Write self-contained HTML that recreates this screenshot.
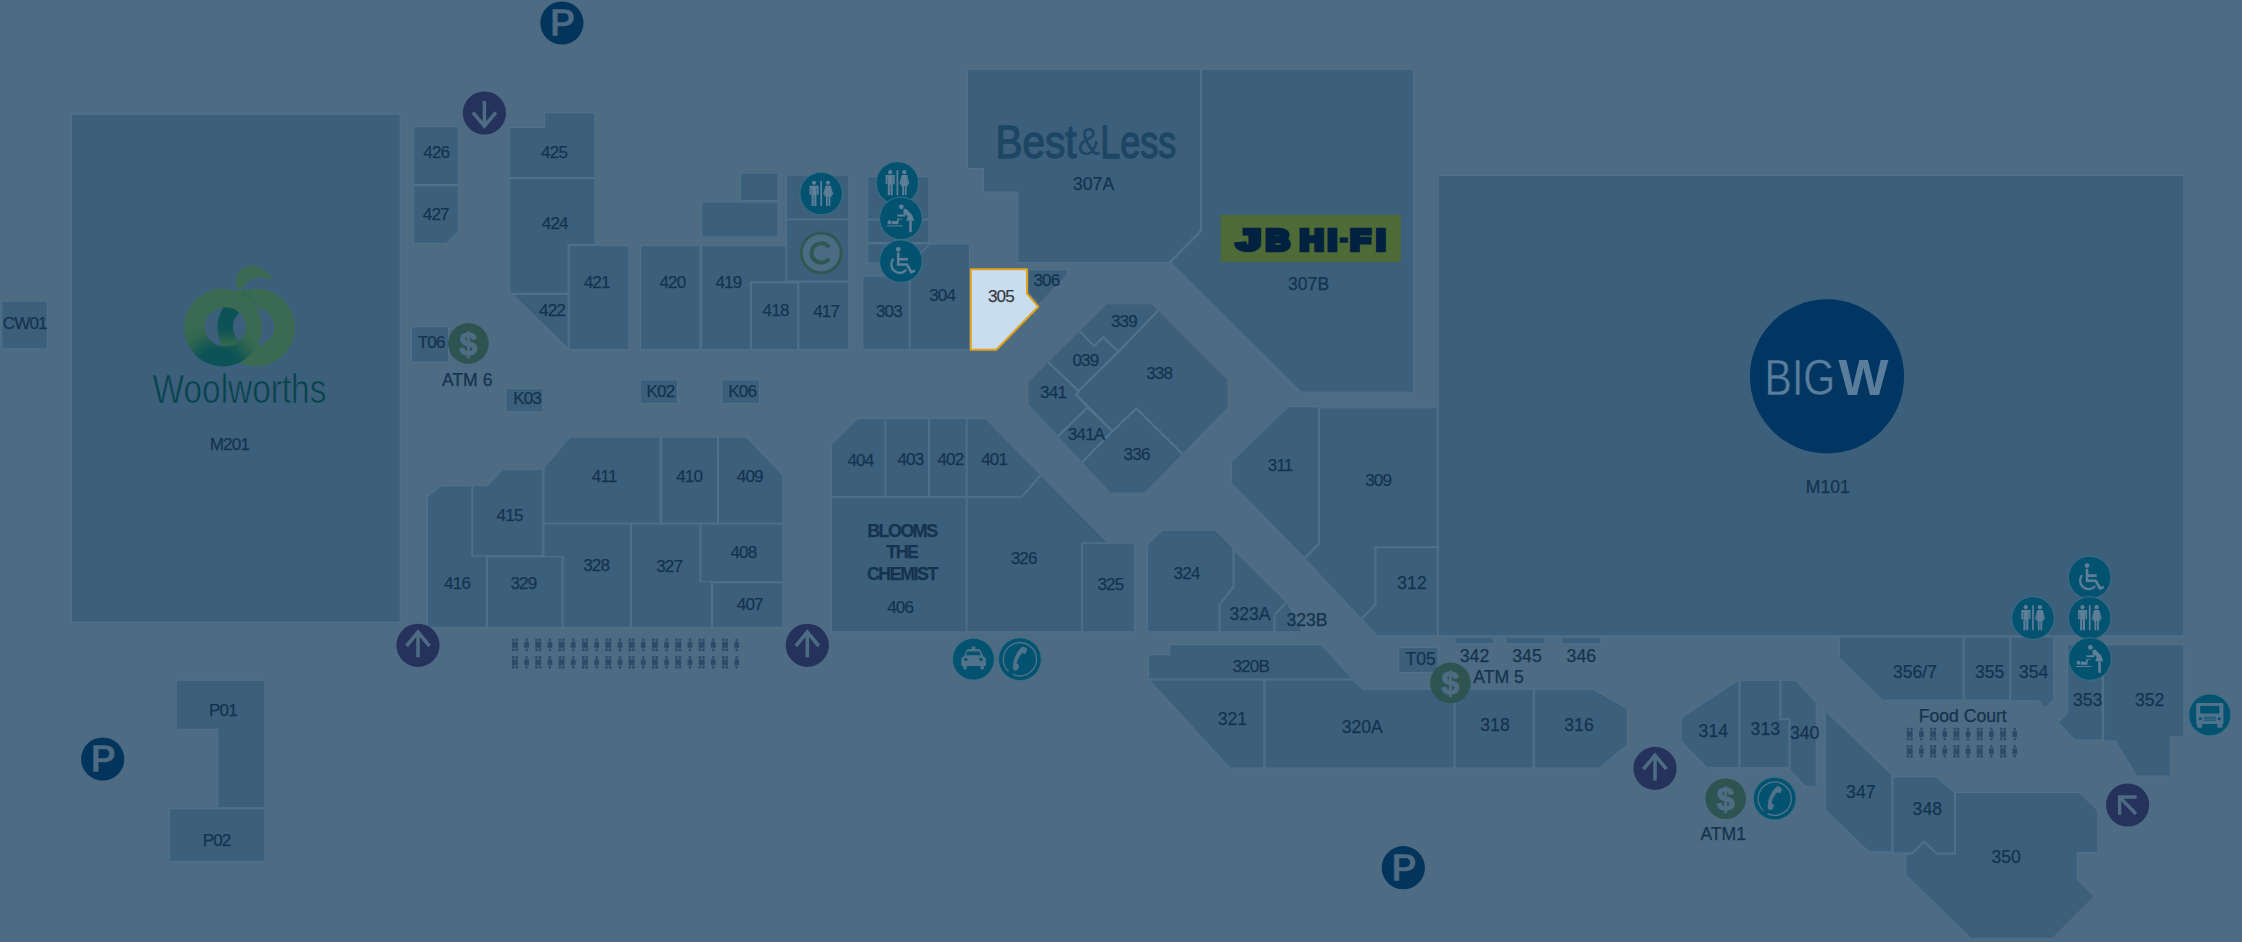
<!DOCTYPE html>
<html lang="en"><head><meta charset="utf-8"><title>Centre Map</title>
<style>
html,body{margin:0;padding:0;background:#4d6b82;}
body{width:2242px;height:942px;overflow:hidden;}
svg{display:block;}
text{font-family:"Liberation Sans",Arial,Helvetica,sans-serif;}
.s{fill:#3c607c;stroke:#50718a;stroke-width:2.2;paint-order:stroke;stroke-linejoin:miter;}
.c{fill:#3c607c;stroke:#52748e;stroke-width:1.8;stroke-linejoin:miter;}
.l{font-size:17.6px;fill:#15334f;text-anchor:middle;stroke:#15334f;stroke-width:0.25px;}
.t{letter-spacing:-0.85px;font-size:17.1px;}
.b{font-weight:bold;font-size:17.8px;letter-spacing:-1.45px;}
</style></head><body>
<svg width="2242" height="942" viewBox="0 0 2242 942">
<defs>
<radialGradient id="wl" gradientUnits="userSpaceOnUse" cx="218" cy="372" r="52"><stop offset="0" stop-color="#0a5156"/><stop offset="0.45" stop-color="#0d5356"/><stop offset="0.8" stop-color="#33674f"/><stop offset="1" stop-color="#3a6a52"/></radialGradient>
<radialGradient id="wr" gradientUnits="userSpaceOnUse" cx="227" cy="316" r="34"><stop offset="0" stop-color="#0a5156"/><stop offset="0.45" stop-color="#0e5456"/><stop offset="0.85" stop-color="#33674f"/><stop offset="1" stop-color="#3a6a52"/></radialGradient>
<clipPath id="oct"><polygon points="1106.7,304.2 1151.7,304.2 1227.3,380 1227.3,407.5 1144.4,492.4 1110.6,492.4 1028.7,404.2 1028.7,381.7"/></clipPath>
</defs>
<rect width="2242" height="942" fill="#4d6b82"/>
<g class="s">
<polygon points="72,114.7 399.7,114.7 399.7,621.7 72,621.7"/>
<polygon points="2.3,301.5 46.7,301.5 46.7,348.3 2.3,348.3"/>
<polygon points="414.2,127.2 457.7,127.2 457.7,183.9 414.2,183.9"/>
<polygon points="414.2,186.2 457.7,186.2 457.7,231.2 446.1,242.9 414.2,242.9"/>
<polygon points="510.3,128 545.2,128 545.2,113.3 594.5,113.3 594.5,177 510.3,177"/>
<polygon points="510.3,179 594.5,179 594.5,244 567.6,244 567.6,292.8 510.3,292.8"/>
<polygon points="513.8,294.9 567.6,294.9 567.6,347.3"/>
<polygon points="569.7,245.9 628.4,245.9 628.4,349 569.7,349"/>
<polygon points="641,245.9 699.4,245.9 699.4,349 641,349"/>
<polygon points="702.1,245.9 785.5,245.9 785.5,281.3 750,281.3 750,349 702.1,349"/>
<polygon points="751.8,283.2 797.2,283.2 797.2,349 751.8,349"/>
<polygon points="799.3,282.8 848.2,282.8 848.2,349 799.3,349"/>
<polygon points="741,173.4 777.5,173.4 777.5,200 741,200"/>
<polygon points="702.1,202.5 777.5,202.5 777.5,236.4 702.1,236.4"/>
<polygon points="787,175.5 848.2,175.5 848.2,218.5 787,218.5"/>
<polygon points="787,220.6 848.2,220.6 848.2,280.6 787,280.6"/>
<polygon points="867.9,177.3 928.4,177.3 928.4,218.5 867.9,218.5"/>
<polygon points="867.9,220.6 928.4,220.6 928.4,241.9 867.9,241.9"/>
<polygon points="867.9,244.5 928.4,244.5 921,252 921,262.5 867.9,262.5"/>
<polygon points="863.3,276.8 908.7,276.8 908.7,349 863.3,349"/>
<polygon points="910.6,349 910.6,264 930,244.5 969,244.5 969,349"/>
<polygon points="1028.6,270.3 1066.7,270.3 1066.7,275 1039,303.5 1028.6,292"/>
<polygon points="968,69.7 1200,69.7 1200,230 1168.6,262.1 1018.3,262.1 1018.3,191.6 984,191.6 984,168.1 968,168.1"/>
<polygon points="1202.2,69.7 1413,69.7 1413,391.7 1301.3,391.7 1171.5,262.5 1202.2,231.3"/>
<polygon points="1438.8,176 2183.3,176 2183.3,635.3 1438.8,635.3"/>
<polygon points="412,327.2 448,327.2 448,361.8 412,361.8"/>
<polygon points="506.5,389 542.5,389 542.5,411.3 506.5,411.3"/>
<polygon points="640.7,380.3 677,380.3 677,403 640.7,403"/>
<polygon points="722.5,380.3 759,380.3 759,403 722.5,403"/>
<polygon points="428,496.7 441.7,486.3 471.3,486.3 471.3,556.3 486,556.3 486,626.7 428,626.7"/>
<polygon points="473.2,486.3 487.3,486.3 503.3,470 542.3,470 542.3,555.3 473.2,555.3"/>
<polygon points="544.5,468 570,437.5 659.5,437.5 659.5,522.8 544.5,522.8"/>
<polygon points="662,437.5 717,437.5 717,522.8 662,522.8"/>
<polygon points="718.9,437.5 746.3,437.5 782.5,475.6 782.5,522.8 718.9,522.8"/>
<polygon points="544.5,524.5 630,524.5 630,626.7 563.6,626.7 563.6,556 544.5,556"/>
<polygon points="487.8,557.2 561.6,557.2 561.6,626.7 487.8,626.7"/>
<polygon points="632,524.5 699.5,524.5 699.5,582 711,582 711,626.7 632,626.7"/>
<polygon points="701.4,524.5 782.5,524.5 782.5,581.2 701.4,581.2"/>
<polygon points="713,583.2 782.5,583.2 782.5,626.7 713,626.7"/>
<polygon points="832,444.5 858,419 884.5,419 884.5,496 832,496"/>
<polygon points="886.3,419 928.2,419 928.2,496 886.3,496"/>
<polygon points="930,419 965.8,419 965.8,496 930,496"/>
<polygon points="967.5,419 985.3,419 1040,474.3 1021.5,496 967.5,496"/>
<polygon points="832,497.8 965.8,497.8 965.8,631.3 832,631.3"/>
<polygon points="967.5,497.8 1022.3,497.8 1041.2,476 1107,542.3 1081.3,542.3 1081.3,631.3 967.5,631.3"/>
<polygon points="1083,543.8 1134,543.8 1134,631.3 1083,631.3"/>
<polygon points="1148,545 1162.5,530.8 1215.8,530.8 1232.5,548 1232.5,586.3 1218.5,604.5 1218.5,631.3 1148,631.3"/>
<polygon points="1234.7,551.5 1285.5,601.5 1273.5,614.5 1273.5,631.3 1220.5,631.3 1220.5,605.3 1234.7,587"/>
<polygon points="1287,603 1300.8,629 1300.8,631.3 1275.5,631.3 1275.5,615.3"/>
<polygon points="1232.1,461.5 1288.3,407.3 1317.8,407.3 1317.8,543.3 1304.3,557 1232.1,483.3"/>
<polygon points="1320,408.3 1436.8,408.3 1436.8,546.3 1374.5,546.3 1374.5,603.8 1361,618 1305.8,559 1320,544.5"/>
<polygon points="1376.5,548.2 1436.8,548.2 1436.8,635.3 1377.3,635.3 1362.5,619.5 1376.5,605"/>
<polygon points="1149.1,655.2 1170.3,655.2 1170.3,645.1 1320.8,645.1 1351.8,678.6 1149.1,678.6"/>
<polygon points="1150.4,680.6 1263.4,680.6 1263.4,767.6 1230,767.6"/>
<polygon points="1265.5,680.6 1353.5,680.6 1362.2,689.7 1453.5,689.7 1453.5,767.6 1265.5,767.6"/>
<polygon points="1455.5,689.7 1532.7,689.7 1532.7,767.6 1455.5,767.6"/>
<polygon points="1535,689.7 1593,689.7 1626.7,709 1626.7,744.7 1599,767.6 1535,767.6"/>
<polygon points="1399.3,648 1437.3,648 1437.3,671.9 1399.3,671.9"/>
<polygon points="1455.3,637.8 1493,637.8 1493,643.2 1455.3,643.2"/>
<polygon points="1506.7,637.8 1544.3,637.8 1544.3,643.2 1506.7,643.2"/>
<polygon points="1562,637.8 1600,637.8 1600,643.2 1562,643.2"/>
<polygon points="1681.7,718 1738.3,680.8 1738.3,767.3 1707.3,767.3 1681.7,741.3"/>
<polygon points="1740.5,680.8 1779.5,680.8 1779.5,720 1788.5,720 1788.5,767.3 1740.5,767.3"/>
<polygon points="1781.5,680.8 1795.7,680.8 1815.7,703 1815.7,786.3 1805.7,786.3 1790.5,769.7 1790.5,718.5 1781.5,718.5"/>
<polygon points="1826,712 1891.3,774.7 1891.3,851.3 1869,851.3 1826,809.7"/>
<polygon points="1893.5,777.3 1935.7,777.3 1954,792.3 1954,852.5 1937.5,852.5 1924,840.5 1911.5,852.5 1893.5,852.5"/>
<polygon points="1956,793 2079,793 2097.3,810.7 2097.3,852 2076.7,852 2076.7,879.7 2094,896.3 2052.3,938 1971.3,938 1906.3,874.7 1906.3,854.7 1912,854.7 1924,843 1937,854.7 1956,854.7"/>
<polygon points="1840,637.6 1962.5,637.6 1962.5,699.7 1882.3,699.7 1840,658"/>
<polygon points="1964.8,637.6 2009.3,637.6 2009.3,699.7 1964.8,699.7"/>
<polygon points="2011.2,637.6 2053.2,637.6 2053.2,699.6 2045.2,707.3 2038.2,700.3 2011.2,700.3"/>
<polygon points="2068.1,645.3 2101.7,645.3 2101.7,739.5 2074.9,739.5 2058.8,722.5 2068.1,713.2"/>
<polygon points="2104.1,645.3 2183.4,645.3 2183.4,736.6 2170,736.6 2170,775.5 2136.9,775.5 2115.7,740.4 2104.1,740.4"/>
<polygon points="176.7,680.7 264.3,680.7 264.3,807.3 218.3,807.3 218.3,728.7 176.7,728.7"/>
<polygon points="170,809.3 264.3,809.3 264.3,860.7 170,860.7"/>
</g>
<g class="c" clip-path="url(#oct)">
<polygon points="1105.56,300.562 1152.93,300.562 1160.35,308.39 1118.3,351.8 1103.3,337 1094.2,346.3 1077.85,329.299"/>
<polygon points="1077.85,329.299 1094.2,346.3 1103.3,337 1118.3,351.8 1078.7,391.2 1045.92,360.199"/>
<polygon points="1045.92,360.199 1078.7,391.2 1076.3,394.7 1087.5,407.5 1056.94,437.346 1024.91,404.798 1024.91,380.799"/>
<polygon points="1087.5,407.5 1112.5,431.2 1080.94,463.611 1056.94,437.346"/>
<polygon points="1136.3,408.3 1183.84,455.165 1145.11,495.335 1109.88,495.335 1080.94,463.611 1112.5,431.2"/>
<polygon points="1160.35,308.39 1230.49,379.048 1230.49,408.197 1183.84,455.165 1136.3,408.3 1112.5,431.2 1076.3,394.7 1078.7,391.2 1118.3,351.8"/>
</g>
<polygon points="970.8,269.2 1027,269.2 1027,293.7 1038.3,306.7 996.3,349.7 970.8,349.7" fill="#c9ddf0" stroke="#e3a21c" stroke-width="2" stroke-linejoin="round"/>
<g fill="#2b4c69">
<rect x="511.95" y="642.00" width="5.9" height="5.8"/><rect x="511.95" y="638.70" width="2.4" height="2.6"/><rect x="511.95" y="648.50" width="2.4" height="2.6"/><rect x="515.50" y="638.70" width="2.4" height="2.6"/><rect x="515.50" y="648.50" width="2.4" height="2.6"/><rect x="524.22" y="642.00" width="4.7" height="5.8"/><rect x="525.47" y="638.70" width="2.2" height="2.6"/><rect x="525.47" y="648.50" width="2.2" height="2.6"/><rect x="535.29" y="642.00" width="5.9" height="5.8"/><rect x="535.29" y="638.70" width="2.4" height="2.6"/><rect x="535.29" y="648.50" width="2.4" height="2.6"/><rect x="538.84" y="638.70" width="2.4" height="2.6"/><rect x="538.84" y="648.50" width="2.4" height="2.6"/><rect x="547.56" y="642.00" width="4.7" height="5.8"/><rect x="548.81" y="638.70" width="2.2" height="2.6"/><rect x="548.81" y="648.50" width="2.2" height="2.6"/><rect x="558.63" y="642.00" width="5.9" height="5.8"/><rect x="558.63" y="638.70" width="2.4" height="2.6"/><rect x="558.63" y="648.50" width="2.4" height="2.6"/><rect x="562.18" y="638.70" width="2.4" height="2.6"/><rect x="562.18" y="648.50" width="2.4" height="2.6"/><rect x="570.90" y="642.00" width="4.7" height="5.8"/><rect x="572.15" y="638.70" width="2.2" height="2.6"/><rect x="572.15" y="648.50" width="2.2" height="2.6"/><rect x="581.97" y="642.00" width="5.9" height="5.8"/><rect x="581.97" y="638.70" width="2.4" height="2.6"/><rect x="581.97" y="648.50" width="2.4" height="2.6"/><rect x="585.52" y="638.70" width="2.4" height="2.6"/><rect x="585.52" y="648.50" width="2.4" height="2.6"/><rect x="594.24" y="642.00" width="4.7" height="5.8"/><rect x="595.49" y="638.70" width="2.2" height="2.6"/><rect x="595.49" y="648.50" width="2.2" height="2.6"/><rect x="605.31" y="642.00" width="5.9" height="5.8"/><rect x="605.31" y="638.70" width="2.4" height="2.6"/><rect x="605.31" y="648.50" width="2.4" height="2.6"/><rect x="608.86" y="638.70" width="2.4" height="2.6"/><rect x="608.86" y="648.50" width="2.4" height="2.6"/><rect x="617.58" y="642.00" width="4.7" height="5.8"/><rect x="618.83" y="638.70" width="2.2" height="2.6"/><rect x="618.83" y="648.50" width="2.2" height="2.6"/><rect x="628.65" y="642.00" width="5.9" height="5.8"/><rect x="628.65" y="638.70" width="2.4" height="2.6"/><rect x="628.65" y="648.50" width="2.4" height="2.6"/><rect x="632.20" y="638.70" width="2.4" height="2.6"/><rect x="632.20" y="648.50" width="2.4" height="2.6"/><rect x="640.92" y="642.00" width="4.7" height="5.8"/><rect x="642.17" y="638.70" width="2.2" height="2.6"/><rect x="642.17" y="648.50" width="2.2" height="2.6"/><rect x="651.99" y="642.00" width="5.9" height="5.8"/><rect x="651.99" y="638.70" width="2.4" height="2.6"/><rect x="651.99" y="648.50" width="2.4" height="2.6"/><rect x="655.54" y="638.70" width="2.4" height="2.6"/><rect x="655.54" y="648.50" width="2.4" height="2.6"/><rect x="664.26" y="642.00" width="4.7" height="5.8"/><rect x="665.51" y="638.70" width="2.2" height="2.6"/><rect x="665.51" y="648.50" width="2.2" height="2.6"/><rect x="675.33" y="642.00" width="5.9" height="5.8"/><rect x="675.33" y="638.70" width="2.4" height="2.6"/><rect x="675.33" y="648.50" width="2.4" height="2.6"/><rect x="678.88" y="638.70" width="2.4" height="2.6"/><rect x="678.88" y="648.50" width="2.4" height="2.6"/><rect x="687.60" y="642.00" width="4.7" height="5.8"/><rect x="688.85" y="638.70" width="2.2" height="2.6"/><rect x="688.85" y="648.50" width="2.2" height="2.6"/><rect x="698.67" y="642.00" width="5.9" height="5.8"/><rect x="698.67" y="638.70" width="2.4" height="2.6"/><rect x="698.67" y="648.50" width="2.4" height="2.6"/><rect x="702.22" y="638.70" width="2.4" height="2.6"/><rect x="702.22" y="648.50" width="2.4" height="2.6"/><rect x="710.94" y="642.00" width="4.7" height="5.8"/><rect x="712.19" y="638.70" width="2.2" height="2.6"/><rect x="712.19" y="648.50" width="2.2" height="2.6"/><rect x="722.01" y="642.00" width="5.9" height="5.8"/><rect x="722.01" y="638.70" width="2.4" height="2.6"/><rect x="722.01" y="648.50" width="2.4" height="2.6"/><rect x="725.56" y="638.70" width="2.4" height="2.6"/><rect x="725.56" y="648.50" width="2.4" height="2.6"/><rect x="734.28" y="642.00" width="4.7" height="5.8"/><rect x="735.53" y="638.70" width="2.2" height="2.6"/><rect x="735.53" y="648.50" width="2.2" height="2.6"/>
<rect x="511.95" y="659.40" width="5.9" height="5.8"/><rect x="511.95" y="656.10" width="2.4" height="2.6"/><rect x="511.95" y="665.90" width="2.4" height="2.6"/><rect x="515.50" y="656.10" width="2.4" height="2.6"/><rect x="515.50" y="665.90" width="2.4" height="2.6"/><rect x="524.22" y="659.40" width="4.7" height="5.8"/><rect x="525.47" y="656.10" width="2.2" height="2.6"/><rect x="525.47" y="665.90" width="2.2" height="2.6"/><rect x="535.29" y="659.40" width="5.9" height="5.8"/><rect x="535.29" y="656.10" width="2.4" height="2.6"/><rect x="535.29" y="665.90" width="2.4" height="2.6"/><rect x="538.84" y="656.10" width="2.4" height="2.6"/><rect x="538.84" y="665.90" width="2.4" height="2.6"/><rect x="547.56" y="659.40" width="4.7" height="5.8"/><rect x="548.81" y="656.10" width="2.2" height="2.6"/><rect x="548.81" y="665.90" width="2.2" height="2.6"/><rect x="558.63" y="659.40" width="5.9" height="5.8"/><rect x="558.63" y="656.10" width="2.4" height="2.6"/><rect x="558.63" y="665.90" width="2.4" height="2.6"/><rect x="562.18" y="656.10" width="2.4" height="2.6"/><rect x="562.18" y="665.90" width="2.4" height="2.6"/><rect x="570.90" y="659.40" width="4.7" height="5.8"/><rect x="572.15" y="656.10" width="2.2" height="2.6"/><rect x="572.15" y="665.90" width="2.2" height="2.6"/><rect x="581.97" y="659.40" width="5.9" height="5.8"/><rect x="581.97" y="656.10" width="2.4" height="2.6"/><rect x="581.97" y="665.90" width="2.4" height="2.6"/><rect x="585.52" y="656.10" width="2.4" height="2.6"/><rect x="585.52" y="665.90" width="2.4" height="2.6"/><rect x="594.24" y="659.40" width="4.7" height="5.8"/><rect x="595.49" y="656.10" width="2.2" height="2.6"/><rect x="595.49" y="665.90" width="2.2" height="2.6"/><rect x="605.31" y="659.40" width="5.9" height="5.8"/><rect x="605.31" y="656.10" width="2.4" height="2.6"/><rect x="605.31" y="665.90" width="2.4" height="2.6"/><rect x="608.86" y="656.10" width="2.4" height="2.6"/><rect x="608.86" y="665.90" width="2.4" height="2.6"/><rect x="617.58" y="659.40" width="4.7" height="5.8"/><rect x="618.83" y="656.10" width="2.2" height="2.6"/><rect x="618.83" y="665.90" width="2.2" height="2.6"/><rect x="628.65" y="659.40" width="5.9" height="5.8"/><rect x="628.65" y="656.10" width="2.4" height="2.6"/><rect x="628.65" y="665.90" width="2.4" height="2.6"/><rect x="632.20" y="656.10" width="2.4" height="2.6"/><rect x="632.20" y="665.90" width="2.4" height="2.6"/><rect x="640.92" y="659.40" width="4.7" height="5.8"/><rect x="642.17" y="656.10" width="2.2" height="2.6"/><rect x="642.17" y="665.90" width="2.2" height="2.6"/><rect x="651.99" y="659.40" width="5.9" height="5.8"/><rect x="651.99" y="656.10" width="2.4" height="2.6"/><rect x="651.99" y="665.90" width="2.4" height="2.6"/><rect x="655.54" y="656.10" width="2.4" height="2.6"/><rect x="655.54" y="665.90" width="2.4" height="2.6"/><rect x="664.26" y="659.40" width="4.7" height="5.8"/><rect x="665.51" y="656.10" width="2.2" height="2.6"/><rect x="665.51" y="665.90" width="2.2" height="2.6"/><rect x="675.33" y="659.40" width="5.9" height="5.8"/><rect x="675.33" y="656.10" width="2.4" height="2.6"/><rect x="675.33" y="665.90" width="2.4" height="2.6"/><rect x="678.88" y="656.10" width="2.4" height="2.6"/><rect x="678.88" y="665.90" width="2.4" height="2.6"/><rect x="687.60" y="659.40" width="4.7" height="5.8"/><rect x="688.85" y="656.10" width="2.2" height="2.6"/><rect x="688.85" y="665.90" width="2.2" height="2.6"/><rect x="698.67" y="659.40" width="5.9" height="5.8"/><rect x="698.67" y="656.10" width="2.4" height="2.6"/><rect x="698.67" y="665.90" width="2.4" height="2.6"/><rect x="702.22" y="656.10" width="2.4" height="2.6"/><rect x="702.22" y="665.90" width="2.4" height="2.6"/><rect x="710.94" y="659.40" width="4.7" height="5.8"/><rect x="712.19" y="656.10" width="2.2" height="2.6"/><rect x="712.19" y="665.90" width="2.2" height="2.6"/><rect x="722.01" y="659.40" width="5.9" height="5.8"/><rect x="722.01" y="656.10" width="2.4" height="2.6"/><rect x="722.01" y="665.90" width="2.4" height="2.6"/><rect x="725.56" y="656.10" width="2.4" height="2.6"/><rect x="725.56" y="665.90" width="2.4" height="2.6"/><rect x="734.28" y="659.40" width="4.7" height="5.8"/><rect x="735.53" y="656.10" width="2.2" height="2.6"/><rect x="735.53" y="665.90" width="2.2" height="2.6"/>
<rect x="1906.75" y="731.10" width="5.9" height="5.8"/><rect x="1906.75" y="727.80" width="2.4" height="2.6"/><rect x="1906.75" y="737.60" width="2.4" height="2.6"/><rect x="1910.30" y="727.80" width="2.4" height="2.6"/><rect x="1910.30" y="737.60" width="2.4" height="2.6"/><rect x="1919.02" y="731.10" width="4.7" height="5.8"/><rect x="1920.27" y="727.80" width="2.2" height="2.6"/><rect x="1920.27" y="737.60" width="2.2" height="2.6"/><rect x="1930.09" y="731.10" width="5.9" height="5.8"/><rect x="1930.09" y="727.80" width="2.4" height="2.6"/><rect x="1930.09" y="737.60" width="2.4" height="2.6"/><rect x="1933.64" y="727.80" width="2.4" height="2.6"/><rect x="1933.64" y="737.60" width="2.4" height="2.6"/><rect x="1942.36" y="731.10" width="4.7" height="5.8"/><rect x="1943.61" y="727.80" width="2.2" height="2.6"/><rect x="1943.61" y="737.60" width="2.2" height="2.6"/><rect x="1953.43" y="731.10" width="5.9" height="5.8"/><rect x="1953.43" y="727.80" width="2.4" height="2.6"/><rect x="1953.43" y="737.60" width="2.4" height="2.6"/><rect x="1956.98" y="727.80" width="2.4" height="2.6"/><rect x="1956.98" y="737.60" width="2.4" height="2.6"/><rect x="1965.70" y="731.10" width="4.7" height="5.8"/><rect x="1966.95" y="727.80" width="2.2" height="2.6"/><rect x="1966.95" y="737.60" width="2.2" height="2.6"/><rect x="1976.77" y="731.10" width="5.9" height="5.8"/><rect x="1976.77" y="727.80" width="2.4" height="2.6"/><rect x="1976.77" y="737.60" width="2.4" height="2.6"/><rect x="1980.32" y="727.80" width="2.4" height="2.6"/><rect x="1980.32" y="737.60" width="2.4" height="2.6"/><rect x="1989.04" y="731.10" width="4.7" height="5.8"/><rect x="1990.29" y="727.80" width="2.2" height="2.6"/><rect x="1990.29" y="737.60" width="2.2" height="2.6"/><rect x="2000.11" y="731.10" width="5.9" height="5.8"/><rect x="2000.11" y="727.80" width="2.4" height="2.6"/><rect x="2000.11" y="737.60" width="2.4" height="2.6"/><rect x="2003.66" y="727.80" width="2.4" height="2.6"/><rect x="2003.66" y="737.60" width="2.4" height="2.6"/><rect x="2012.38" y="731.10" width="4.7" height="5.8"/><rect x="2013.63" y="727.80" width="2.2" height="2.6"/><rect x="2013.63" y="737.60" width="2.2" height="2.6"/>
<rect x="1906.75" y="748.40" width="5.9" height="5.8"/><rect x="1906.75" y="745.10" width="2.4" height="2.6"/><rect x="1906.75" y="754.90" width="2.4" height="2.6"/><rect x="1910.30" y="745.10" width="2.4" height="2.6"/><rect x="1910.30" y="754.90" width="2.4" height="2.6"/><rect x="1919.02" y="748.40" width="4.7" height="5.8"/><rect x="1920.27" y="745.10" width="2.2" height="2.6"/><rect x="1920.27" y="754.90" width="2.2" height="2.6"/><rect x="1930.09" y="748.40" width="5.9" height="5.8"/><rect x="1930.09" y="745.10" width="2.4" height="2.6"/><rect x="1930.09" y="754.90" width="2.4" height="2.6"/><rect x="1933.64" y="745.10" width="2.4" height="2.6"/><rect x="1933.64" y="754.90" width="2.4" height="2.6"/><rect x="1942.36" y="748.40" width="4.7" height="5.8"/><rect x="1943.61" y="745.10" width="2.2" height="2.6"/><rect x="1943.61" y="754.90" width="2.2" height="2.6"/><rect x="1953.43" y="748.40" width="5.9" height="5.8"/><rect x="1953.43" y="745.10" width="2.4" height="2.6"/><rect x="1953.43" y="754.90" width="2.4" height="2.6"/><rect x="1956.98" y="745.10" width="2.4" height="2.6"/><rect x="1956.98" y="754.90" width="2.4" height="2.6"/><rect x="1965.70" y="748.40" width="4.7" height="5.8"/><rect x="1966.95" y="745.10" width="2.2" height="2.6"/><rect x="1966.95" y="754.90" width="2.2" height="2.6"/><rect x="1976.77" y="748.40" width="5.9" height="5.8"/><rect x="1976.77" y="745.10" width="2.4" height="2.6"/><rect x="1976.77" y="754.90" width="2.4" height="2.6"/><rect x="1980.32" y="745.10" width="2.4" height="2.6"/><rect x="1980.32" y="754.90" width="2.4" height="2.6"/><rect x="1989.04" y="748.40" width="4.7" height="5.8"/><rect x="1990.29" y="745.10" width="2.2" height="2.6"/><rect x="1990.29" y="754.90" width="2.2" height="2.6"/><rect x="2000.11" y="748.40" width="5.9" height="5.8"/><rect x="2000.11" y="745.10" width="2.4" height="2.6"/><rect x="2000.11" y="754.90" width="2.4" height="2.6"/><rect x="2003.66" y="745.10" width="2.4" height="2.6"/><rect x="2003.66" y="754.90" width="2.4" height="2.6"/><rect x="2012.38" y="748.40" width="4.7" height="5.8"/><rect x="2013.63" y="745.10" width="2.2" height="2.6"/><rect x="2013.63" y="754.90" width="2.2" height="2.6"/>
</g>
<g class="l">
<text x="436.3" y="157.6" class="t">426</text>
<text x="435.8" y="220.2" class="t">427</text>
<text x="554.1" y="157.6" class="t">425</text>
<text x="554.8" y="229.2" class="t">424</text>
<text x="596.7" y="287.9" class="t">421</text>
<text x="672.4" y="287.9" class="t">420</text>
<text x="728.4" y="287.9" class="t">419</text>
<text x="552" y="316.3" class="t">422</text>
<text x="775.6" y="316.1" class="t">418</text>
<text x="826.2" y="317.1" class="t">417</text>
<text x="888.9" y="317.1" class="t">303</text>
<text x="942.2" y="301.4" class="t">304</text>
<text x="1046.4" y="285.9" class="t">306</text>
<text x="1093.6" y="190.1">307A</text>
<text x="1308.6" y="289.8">307B</text>
<text x="24.7" y="329.2" class="t">CW01</text>
<text x="229.4" y="449.9" class="t">M201</text>
<text x="431.2" y="348.2" class="t">T06</text>
<text x="467.2" y="386.3">ATM 6</text>
<text x="527.1" y="404.2" class="t">K03</text>
<text x="660.4" y="396.5" class="t">K02</text>
<text x="742.2" y="396.5" class="t">K06</text>
<text x="604.2" y="482.2" class="t">411</text>
<text x="689.2" y="482.2" class="t">410</text>
<text x="749.8" y="482.2" class="t">409</text>
<text x="509.6" y="520.9" class="t">415</text>
<text x="596.2" y="570.5" class="t">328</text>
<text x="669.2" y="571.5" class="t">327</text>
<text x="457.1" y="588.9" class="t">416</text>
<text x="523.4" y="588.9" class="t">329</text>
<text x="743.4" y="557.9" class="t">408</text>
<text x="749.8" y="609.6" class="t">407</text>
<text x="1123.9" y="327.2" class="t">339</text>
<text x="1085.4" y="365.9" class="t">039</text>
<text x="1159.2" y="379.2" class="t">338</text>
<text x="1053.1" y="397.5" class="t">341</text>
<text x="1086.1" y="440.2" class="t">341A</text>
<text x="1136.6" y="459.9" class="t">336</text>
<text x="860.4" y="465.9" class="t">404</text>
<text x="910.4" y="464.9" class="t">403</text>
<text x="950.4" y="464.9" class="t">402</text>
<text x="994.2" y="464.9" class="t">401</text>
<text x="1280.1" y="470.5" class="t">311</text>
<text x="1378.2" y="485.9" class="t">309</text>
<text x="900.2" y="613.2" class="t">406</text>
<text x="1023.7" y="564.2" class="t">326</text>
<text x="1110.4" y="589.5" class="t">325</text>
<text x="1186.6" y="578.7" class="t">324</text>
<text x="1250" y="620">323A</text>
<text x="1307" y="625.7">323B</text>
<text x="1412" y="589.1">312</text>
<text x="1827.8" y="492.5">M101</text>
<text x="222.9" y="715.9" class="t">P01</text>
<text x="216.6" y="845.9" class="t">P02</text>
<text x="1250.7" y="672.4" class="t">320B</text>
<text x="1232.4" y="725">321</text>
<text x="1362.2" y="732.6">320A</text>
<text x="1420.7" y="665.1">T05</text>
<text x="1474.5" y="662">342</text>
<text x="1498.5" y="683">ATM 5</text>
<text x="1495" y="731.1">318</text>
<text x="1527" y="662.3">345</text>
<text x="1581.3" y="662.3">346</text>
<text x="1579" y="731.1">316</text>
<text x="1713.3" y="736.7">314</text>
<text x="1765.3" y="735.3">313</text>
<text x="1804.7" y="738.7">340</text>
<text x="1723.2" y="840.3">ATM1</text>
<text x="1860.8" y="798">347</text>
<text x="1927.3" y="815">348</text>
<text x="2006.2" y="862.7">350</text>
<text x="1915" y="678">356/7</text>
<text x="1989.7" y="678">355</text>
<text x="2033.7" y="678">354</text>
<text x="2087.7" y="705.7">353</text>
<text x="2149.7" y="705.7">352</text>
<text x="1962.7" y="722.3">Food Court</text>
<text x="1000.9" y="301.6" class="t" fill="#3a3b42" stroke="#3a3b42">305</text>
<text x="901.9" y="537.3" class="t b">BLOOMS</text>
<text x="901.9" y="558.3" class="t b">THE</text>
<text x="901.9" y="579.7" class="t b">CHEMIST</text>
</g>
<g>
<path fill="url(#wr)" fill-rule="evenodd" d="M256.2,288.8a38.8,38.8 0 1 0 0.01,0z M253.6,307.3a20.6,19.6 0 1 1 -0.01,0z"/>
<path fill="url(#wl)" fill-rule="evenodd" d="M222.8,288.8a38.8,38.8 0 1 0 0.01,0z M225.4,307.3a20.6,19.6 0 1 1 -0.01,0z"/>
<path fill="#3a6a52" d="M240.2,293.6c-5.2,-7.6 -6.2,-16 -1.2,-22.2c5.4,-6.6 16.4,-7 24.2,-2.200c5,3 9.200,8 10.400,12.400c-6.400,-4.600 -14.400,-5.600 -20.600,-3.200c-6,2.400 -10,8 -12.800,15.200z"/>
<text x="152.6" y="402.5" font-size="40" fill="#07434b" stroke="#3c607c" stroke-width="0.7" textLength="173.8" lengthAdjust="spacingAndGlyphs">Woolworths</text>
</g>
<text fill="#1d4564" font-size="47"><tspan x="995.4" y="158.1" stroke="#1d4564" stroke-width="1.3" textLength="81.1" lengthAdjust="spacingAndGlyphs">Best</tspan><tspan x="1077.7" y="155" font-size="38" textLength="22.3" lengthAdjust="spacingAndGlyphs">&amp;</tspan><tspan x="1100.2" y="158.1" stroke="#1d4564" stroke-width="1.3" textLength="76" lengthAdjust="spacingAndGlyphs">Less</tspan></text>
<rect x="1220.6" y="214.9" width="180.3" height="46.9" fill="#4e6a36"/>
<text transform="translate(0,249.7) scale(1.15,1)" font-size="28.8" font-weight="bold" fill="#00213f" stroke="#00213f" stroke-width="4.3" stroke-linejoin="miter"><tspan x="1075.4" textLength="20.8" lengthAdjust="spacingAndGlyphs">J</tspan><tspan x="1100.57 1115 1130.3 1154.57">B HI</tspan><tspan x="1166" dy="-6.2" font-size="14" stroke-width="3.6">-</tspan><tspan x="1174.2 1196.8" dy="6.2">FI</tspan></text>
<circle cx="1827" cy="376.4" r="77.1" fill="#013663"/>
<text x="1764.6" y="394.6" font-size="50.5" fill="#5b7d9c" stroke="#013663" stroke-width="0.4" textLength="70.6" lengthAdjust="spacingAndGlyphs">BIG</text>
<text x="1838.6" y="394.6" font-size="50.5" font-weight="bold" fill="#5b7d9c" textLength="50" lengthAdjust="spacingAndGlyphs">W</text>
<circle cx="561.9" cy="23" r="21.6" fill="#03345b"/><text x="562.5" y="36.3" font-size="38" font-weight="bold" fill="#4d6b82" stroke="#03345b" stroke-width="0.4" text-anchor="middle">P</text>
<circle cx="102.7" cy="759" r="21.6" fill="#03345b"/><text x="103.3" y="772.3" font-size="38" font-weight="bold" fill="#4d6b82" stroke="#03345b" stroke-width="0.4" text-anchor="middle">P</text>
<circle cx="1403.3" cy="867.7" r="21.6" fill="#03345b"/><text x="1403.9" y="881" font-size="38" font-weight="bold" fill="#4d6b82" stroke="#03345b" stroke-width="0.4" text-anchor="middle">P</text>
<g transform="translate(484.4,113) rotate(0)"><circle cx="0" cy="0" r="21.6" fill="#25325c"/><path d="M0,-12V11M-11.5,-0.7L0,13.2L11.5,-0.7" fill="none" stroke="#4d6b82" stroke-width="3.6" stroke-linecap="butt" stroke-linejoin="miter"/></g>
<g transform="translate(418,645.3) rotate(180)"><circle cx="0" cy="0" r="21.6" fill="#25325c"/><path d="M0,-12V11M-11.5,-0.7L0,13.2L11.5,-0.7" fill="none" stroke="#4d6b82" stroke-width="3.6" stroke-linecap="butt" stroke-linejoin="miter"/></g>
<g transform="translate(807.3,645.3) rotate(180)"><circle cx="0" cy="0" r="21.6" fill="#25325c"/><path d="M0,-12V11M-11.5,-0.7L0,13.2L11.5,-0.7" fill="none" stroke="#4d6b82" stroke-width="3.6" stroke-linecap="butt" stroke-linejoin="miter"/></g>
<g transform="translate(1655,768.4) rotate(180)"><circle cx="0" cy="0" r="21.6" fill="#25325c"/><path d="M0,-12V11M-11.5,-0.7L0,13.2L11.5,-0.7" fill="none" stroke="#4d6b82" stroke-width="3.6" stroke-linecap="butt" stroke-linejoin="miter"/></g>
<g transform="translate(2127.6,805)"><circle cx="0" cy="0" r="21.6" fill="#25325c"/><path d="M-8,9.8V-8H9M-8,-8L8.4,9" fill="none" stroke="#4d6b82" stroke-width="3.4" stroke-linecap="butt" stroke-linejoin="miter"/></g>
<circle cx="468.4" cy="343.4" r="20.3" fill="#2d5450"/><text x="468.4" y="354.6" font-size="31.8" font-weight="bold" fill="#4e6d85" stroke="#4e6d85" stroke-width="1" text-anchor="middle">$</text>
<circle cx="1450.4" cy="682.9" r="20.3" fill="#2d5450"/><text x="1450.4" y="694.1" font-size="31.8" font-weight="bold" fill="#4e6d85" stroke="#4e6d85" stroke-width="1" text-anchor="middle">$</text>
<circle cx="1725.7" cy="798.7" r="20.3" fill="#2d5450"/><text x="1725.7" y="809.9" font-size="31.8" font-weight="bold" fill="#4e6d85" stroke="#4e6d85" stroke-width="1" text-anchor="middle">$</text>
<g transform="translate(821.2,193.6)"><circle cx="0" cy="0" r="21.3" fill="#035370" stroke="#3f7189" stroke-width="0.9"/><g fill="#5f7e98"><rect x="-0.85" y="-12.8" width="1.7" height="25.1"/><circle cx="-7.2" cy="-10.8" r="2.1"/><path d="M-11.7,-7.9h9.1v9.1h-1.7v-6.9h-0.4v18h-2.1v-10.6h-0.7v10.600h-2.100v-18h-0.400v6.900h-1.700z"/><circle cx="6.9" cy="-10.8" r="2.1"/><path d="M4.3,-7.9h5.4l2.300,8.800l-1.500,0.400l-1.700,-6.300l1.900,7.900h-1.500v9.400h-1.800v-9.400h-0.800v9.400h-1.800v-9.400h-1.500l1.900,-7.900l-1.700,6.300l-1.500,-0.400z"/></g></g>
<g transform="translate(821.2,252.9)"><circle r="21.4" fill="#2f5754"/><circle r="18.5" fill="#4c6c83"/><path d="M7.900,-5.700A9.700,9.700 0 1 0 7.900,5.700" fill="none" stroke="#2f5754" stroke-width="4.1"/></g>
<g transform="translate(897.4,183)"><circle cx="0" cy="0" r="21.3" fill="#035370" stroke="#3f7189" stroke-width="0.9"/><g fill="#5f7e98"><rect x="-0.85" y="-12.8" width="1.7" height="25.1"/><circle cx="-7.2" cy="-10.8" r="2.1"/><path d="M-11.7,-7.9h9.1v9.1h-1.7v-6.9h-0.4v18h-2.1v-10.6h-0.7v10.600h-2.100v-18h-0.400v6.900h-1.700z"/><circle cx="6.9" cy="-10.8" r="2.1"/><path d="M4.3,-7.9h5.4l2.300,8.800l-1.500,0.400l-1.700,-6.300l1.900,7.900h-1.500v9.400h-1.800v-9.400h-0.800v9.400h-1.800v-9.400h-1.500l1.900,-7.900l-1.700,6.300l-1.500,-0.400z"/></g></g>
<g transform="translate(900.9,218.4)"><circle cx="0" cy="0" r="21.3" fill="#035370" stroke="#3f7189" stroke-width="0.9"/><g fill="#5f7e98"><circle cx="0.4" cy="-11.6" r="2.4"/><path d="M2.6,-9.1L5.3,-9.6L11.2,-3.5L13.4,2.3H5.3L6.8,-2L4.3,-4.4V-1.8H-3.5V-3.8H2.6Z"/><rect x="8.25" y="2.3" width="2.65" height="11.5"/><circle cx="-11.5" cy="3.8" r="1.95"/><rect x="-9.1" y="2.6" width="6.6" height="3.2"/><path d="M-3.7,2.8V0.15H0.9V1.1H-2V2.8Z"/><rect x="-14" y="7" width="15.4" height="1"/></g></g>
<g transform="translate(900.9,261.2)"><circle cx="0" cy="0" r="21.3" fill="#035370" stroke="#3f7189" stroke-width="0.9"/><circle cx="-2.7" cy="-11.9" r="2.4" fill="#5f7e98"/><path d="M-2.7,-8.8V3.3H6L10.400,11L14,9.4M-2.7,-1.900H7" fill="none" stroke="#5f7e98" stroke-width="2.6" stroke-linejoin="miter"/><path d="M-7.6,-2.400A8.300,8.300 0 1 0 5.500,8.600" fill="none" stroke="#5f7e98" stroke-width="2.2"/></g>
<g transform="translate(2089.7,577.5)"><circle cx="0" cy="0" r="21.3" fill="#035370" stroke="#3f7189" stroke-width="0.9"/><circle cx="-2.7" cy="-11.9" r="2.4" fill="#5f7e98"/><path d="M-2.7,-8.8V3.3H6L10.400,11L14,9.4M-2.7,-1.900H7" fill="none" stroke="#5f7e98" stroke-width="2.6" stroke-linejoin="miter"/><path d="M-7.6,-2.400A8.300,8.300 0 1 0 5.500,8.600" fill="none" stroke="#5f7e98" stroke-width="2.2"/></g>
<g transform="translate(2033,618)"><circle cx="0" cy="0" r="21.3" fill="#035370" stroke="#3f7189" stroke-width="0.9"/><g fill="#5f7e98"><rect x="-0.85" y="-12.8" width="1.7" height="25.1"/><circle cx="-7.2" cy="-10.8" r="2.1"/><path d="M-11.7,-7.9h9.1v9.1h-1.7v-6.9h-0.4v18h-2.1v-10.6h-0.7v10.600h-2.100v-18h-0.400v6.900h-1.700z"/><circle cx="6.9" cy="-10.8" r="2.1"/><path d="M4.3,-7.9h5.4l2.300,8.800l-1.500,0.400l-1.700,-6.300l1.900,7.900h-1.500v9.400h-1.800v-9.400h-0.800v9.400h-1.800v-9.400h-1.500l1.900,-7.900l-1.700,6.300l-1.500,-0.400z"/></g></g>
<g transform="translate(2089.7,618)"><circle cx="0" cy="0" r="21.3" fill="#035370" stroke="#3f7189" stroke-width="0.9"/><g fill="#5f7e98"><rect x="-0.85" y="-12.8" width="1.7" height="25.1"/><circle cx="-7.2" cy="-10.8" r="2.1"/><path d="M-11.7,-7.9h9.1v9.1h-1.7v-6.9h-0.4v18h-2.1v-10.6h-0.7v10.600h-2.100v-18h-0.400v6.900h-1.700z"/><circle cx="6.9" cy="-10.8" r="2.1"/><path d="M4.3,-7.9h5.4l2.300,8.800l-1.500,0.400l-1.700,-6.300l1.900,7.900h-1.500v9.400h-1.800v-9.400h-0.800v9.400h-1.800v-9.400h-1.500l1.900,-7.900l-1.700,6.300l-1.500,-0.400z"/></g></g>
<g transform="translate(2090,659)"><circle cx="0" cy="0" r="21.3" fill="#035370" stroke="#3f7189" stroke-width="0.9"/><g fill="#5f7e98"><circle cx="0.4" cy="-11.6" r="2.4"/><path d="M2.6,-9.1L5.3,-9.6L11.2,-3.5L13.4,2.3H5.3L6.8,-2L4.3,-4.4V-1.8H-3.5V-3.8H2.6Z"/><rect x="8.25" y="2.3" width="2.65" height="11.5"/><circle cx="-11.5" cy="3.8" r="1.95"/><rect x="-9.1" y="2.6" width="6.6" height="3.2"/><path d="M-3.7,2.8V0.15H0.9V1.1H-2V2.8Z"/><rect x="-14" y="7" width="15.4" height="1"/></g></g>
<g transform="translate(973.4,659.2)"><circle cx="0" cy="0" r="20.9" fill="#035370" stroke="#3f7189" stroke-width="0.9"/><path fill="#50738b" d="M-1.8,-12.6h3.6v2.4h2.8c1.6,0 2.6,0.8 3.2,2.2l2.2,5.4c1.6,0.4 2.5,1.5 2.5,3.2v6.2h-2v2.6c0,0.5 -0.3,0.8 -0.8,0.8h-1.800c-0.500,0 -0.800,-0.300 -0.800,-0.800v-2.600h-13.800v2.600c0,0.500 -0.300,0.800 -0.800,0.800h-1.800c-0.500,0 -0.800,-0.300 -0.800,-0.800v-2.600h-2v-6.200c0,-1.700 0.900,-2.800 2.500,-3.200l2.200,-5.400c0.600,-1.400 1.600,-2.200 3.200,-2.200h2.800z"/><path fill="#035370" d="M-6.200,-7.800h12.400l1.400,3.800h-15.200z"/><circle cx="-7.500" cy="0.200" r="1.600" fill="#035370"/><circle cx="7.500" cy="0.200" r="1.600" fill="#035370"/></g>
<g transform="translate(1019.9,659.2)"><circle cx="0" cy="0" r="21.4" fill="#035370" stroke="#3f7189" stroke-width="0.9"/><path d="M-11.4,12.100A16.600,16.600 0 1 1 -7.200,15" fill="none" stroke="#50738b" stroke-width="1.300"/><path fill="#50738b" d="M2.600,-12.400C5,-12.600 7,-10.500 7.200,-9.400L5.800,-5.600C4.600,-5.400 3.600,-5.600 2.800,-6.400C0,-3.600 -2.600,0.600 -3.200,4.400C-2.400,4.800 -1.200,5.600 -0.600,6.800L-2.200,10.600C-3.600,11.400 -5.600,11.400 -6.600,10.600C-7.800,6 -6,-1 -3,-6C-1.400,-8.800 0.600,-11.600 2.600,-12.400Z"/></g>
<g transform="translate(1774.7,798.6)"><circle cx="0" cy="0" r="21.4" fill="#035370" stroke="#3f7189" stroke-width="0.9"/><path d="M-11.4,12.100A16.600,16.600 0 1 1 -7.200,15" fill="none" stroke="#50738b" stroke-width="1.300"/><path fill="#50738b" d="M2.600,-12.400C5,-12.600 7,-10.500 7.200,-9.400L5.800,-5.600C4.600,-5.400 3.600,-5.600 2.800,-6.400C0,-3.600 -2.600,0.600 -3.200,4.400C-2.400,4.800 -1.200,5.600 -0.600,6.800L-2.200,10.600C-3.600,11.400 -5.600,11.400 -6.600,10.600C-7.800,6 -6,-1 -3,-6C-1.400,-8.800 0.600,-11.600 2.600,-12.400Z"/></g>
<g transform="translate(2209.8,714.9)"><circle cx="0" cy="0" r="21" fill="#035370" stroke="#3f7189" stroke-width="0.9"/><path fill="#50738b" d="M-13.600,-10.400c0,-1 0.600,-1.600 1.600,-1.600h24c1,0 1.600,0.600 1.600,1.600v19.600h-1v2.600c0,0.600 -0.400,1 -1,1h-3c-0.600,0 -1,-0.400 -1,-1v-2.600h-15.200v2.600c0,0.600 -0.400,1 -1,1h-3c-0.600,0 -1,-0.400 -1,-1v-2.600h-1z"/><rect x="-9.600" y="-9" width="19.200" height="7.600" fill="#035370"/><circle cx="-9.400" cy="3.800" r="1.500" fill="#035370"/><circle cx="9.400" cy="3.800" r="1.500" fill="#035370"/><path d="M-6,2.200h12M-6,3.800h12M-6,5.400h12" stroke="#035370" stroke-width="0.800"/></g>
</svg>
</body></html>
